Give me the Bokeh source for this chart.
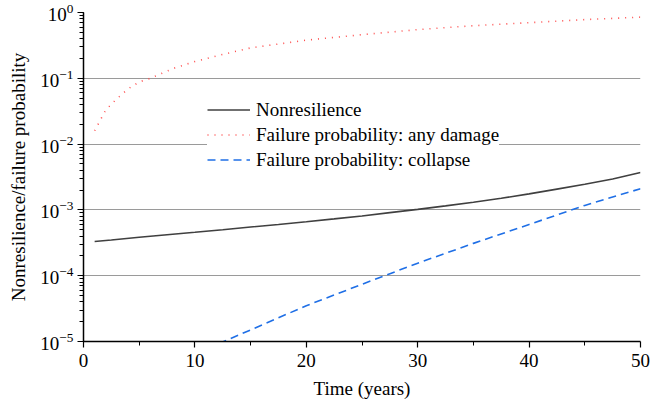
from bokeh.plotting import figure
from bokeh.models import Legend, LegendItem, FixedTicker, LogTicker, Range1d
from bokeh.embed import file_html
from bokeh.resources import INLINE

# Data
t_nonres = [1, 2.5, 5, 7.5, 10, 12.5, 15, 17.5, 20, 22.5, 25, 27.5, 30, 32.5, 35, 37.5, 40, 42.5, 45, 47.5, 50]
nonresilience = [3.31e-4, 3.48e-4, 3.85e-4, 4.2e-4, 4.57e-4, 5.0e-4, 5.5e-4, 6.0e-4, 6.6e-4, 7.3e-4, 8.1e-4,
                 9.1e-4, 1.02e-3, 1.15e-3, 1.31e-3, 1.5e-3, 1.75e-3, 2.07e-3, 2.45e-3, 2.95e-3, 3.7e-3]

t_damage = [1, 2, 3, 4, 5, 6, 8, 10, 12, 15, 20, 25, 30, 35, 40, 45, 50]
fail_damage = [0.016, 0.033, 0.049, 0.069, 0.088, 0.10, 0.14, 0.18, 0.22, 0.29, 0.38, 0.46, 0.55, 0.63, 0.70, 0.78, 0.85]

t_collapse = [10, 15, 20, 25, 30, 35, 40, 45, 50]
fail_collapse = [6.5e-6, 1.5e-5, 3.5e-5, 7.4e-5, 1.55e-4, 3.1e-4, 6.0e-4, 1.17e-3, 2.1e-3]

x_ticks = [0, 10, 20, 30, 40, 50]
x_minor = [5, 15, 25, 35, 45]

FONT = "Liberation Serif"

p = figure(width=651, height=412, output_backend="svg", toolbar_location=None,
           y_axis_type="log", x_range=Range1d(0, 50), y_range=Range1d(1e-5, 1),
           min_border_left=83, min_border_right=11, min_border_top=12, min_border_bottom=71)
p.outline_line_color = None
p.background_fill_color = "white"
p.border_fill_color = "white"

p.xgrid.grid_line_color = None
p.ygrid.grid_line_color = "#9a9a9a"
p.ygrid.grid_line_width = 1.2

p.xaxis.ticker = FixedTicker(ticks=x_ticks, minor_ticks=x_minor)
p.yaxis.ticker = LogTicker(num_minor_ticks=10, desired_num_ticks=6)

for ax in (p.xaxis[0], p.yaxis[0]):
    ax.axis_line_color = "black"
    ax.axis_line_width = 1.5
    ax.major_tick_line_color = "black"
    ax.minor_tick_line_color = "black"
    ax.major_tick_line_width = 1.2
    ax.minor_tick_line_width = 1
    ax.major_tick_out = 6
    ax.major_tick_in = 0
    ax.minor_tick_out = 4
    ax.minor_tick_in = 0
    ax.major_label_text_font = FONT
    ax.major_label_text_font_style = "normal"
    ax.major_label_text_font_size = "19px"
    ax.major_label_text_color = "black"
    ax.axis_label_text_font = FONT
    ax.axis_label_text_font_size = "19px"
    ax.axis_label_text_font_style = "normal"
    ax.axis_label_text_color = "black"

p.xaxis.axis_label = "Time (years)"
p.yaxis.axis_label = "Nonresilience/failure probability"
p.xaxis.major_label_standoff = 6
p.xaxis.axis_label_standoff = 8
p.yaxis.major_label_standoff = 4
p.yaxis.axis_label_standoff = 8

r1 = p.line(t_nonres, nonresilience, line_color="#404040", line_width=1.6)
r2 = p.line(t_damage, fail_damage, line_color="#ff4d4d", line_width=1.6, line_dash="1 6")
r3 = p.line(t_collapse, fail_collapse, line_color="#1f6fe6", line_width=1.6, line_dash="8 5")

legend = Legend(items=[
    LegendItem(label="Nonresilience", renderers=[r1]),
    LegendItem(label="Failure probability: any damage", renderers=[r2]),
    LegendItem(label="Failure probability: collapse", renderers=[r3]),
], location=(124, 169))
legend.label_text_font = FONT
legend.label_text_font_style = "normal"
legend.label_text_font_size = "19px"
legend.label_text_color = "black"
legend.glyph_width = 43
legend.glyph_height = 25
legend.label_height = 25
legend.label_standoff = 6
legend.spacing = 0
legend.padding = 3
legend.margin = 0
legend.border_line_color = None
legend.background_fill_color = "white"
legend.background_fill_alpha = 1.0
p.add_layout(legend)

open("out.html", "w").write(file_html(p, INLINE))
